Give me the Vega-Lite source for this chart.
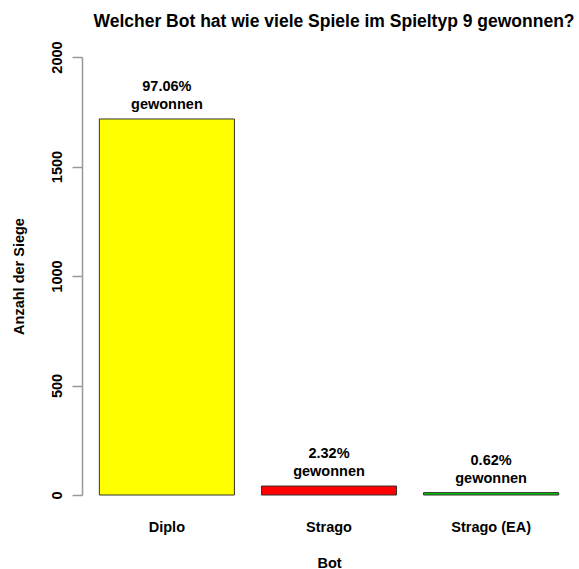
{
  "$schema": "https://vega.github.io/schema/vega-lite/v6.json",
  "width": 494,
  "height": 438,
  "autosize": {"type": "none"},
  "padding": {"left": 82, "top": 57, "right": 3, "bottom": 74},
  "background": "white",
  "config": {
    "view": {"stroke": null},
    "font": "Liberation Sans",
    "text": {"lineBreak": "\n"}
  },
  "title": {
    "text": "Welcher Bot hat wie viele Spiele im Spieltyp 9 gewonnen?",
    "anchor": "middle",
    "frame": "group",
    "font": "Liberation Sans",
    "fontSize": 17.5,
    "fontWeight": "bold",
    "color": "black",
    "baseline": "alphabetic",
    "offset": -4,
    "dx": 5
  },
  "data": {
    "values": [
      {"Bot": "Diplo", "Siege": 1717, "Label": "97.06%\ngewonnen"},
      {"Bot": "Strago", "Siege": 41, "Label": "2.32%\ngewonnen"},
      {"Bot": "Strago (EA)", "Siege": 11, "Label": "0.62%\ngewonnen"}
    ]
  },
  "encoding": {
    "x": {
      "field": "Bot",
      "type": "nominal",
      "sort": null,
      "scale": {"paddingInner": 0.1667, "paddingOuter": 0.107},
      "axis": {
        "title": "Bot",
        "labelAngle": 0,
        "domain": false,
        "ticks": false,
        "labelPadding": 25,
        "labelBaseline": "top",
        "labelFont": "Liberation Sans",
        "labelFontSize": 14.5,
        "labelFontWeight": "bold",
        "labelColor": "black",
        "titleFont": "Liberation Sans",
        "titleFontSize": 14.5,
        "titleFontWeight": "bold",
        "titleColor": "black",
        "titleBaseline": "alphabetic",
        "titleY": 72
      }
    },
    "y": {
      "field": "Siege",
      "type": "quantitative",
      "scale": {"domain": [0, 2000], "nice": false},
      "axis": {
        "title": "Anzahl der Siege",
        "values": [0, 500, 1000, 1500, 2000],
        "format": "d",
        "grid": false,
        "domainColor": "#999999",
        "domainWidth": 1.5,
        "tickColor": "#999999",
        "tickWidth": 1.5,
        "tickSize": 10,
        "labelAngle": 270,
        "labelAlign": "center",
        "labelBaseline": "alphabetic",
        "labelPadding": 11,
        "labelFont": "Liberation Sans",
        "labelFontSize": 14.5,
        "labelFontWeight": "bold",
        "labelColor": "black",
        "titleFont": "Liberation Sans",
        "titleFontSize": 14.5,
        "titleFontWeight": "bold",
        "titleColor": "black",
        "titleAngle": 270,
        "titleAlign": "center",
        "titleBaseline": "alphabetic",
        "titleX": -59,
        "titleY": 219
      }
    }
  },
  "layer": [
    {
      "mark": {"type": "bar", "stroke": "#333333", "strokeWidth": 1},
      "encoding": {
        "color": {
          "field": "Bot",
          "type": "nominal",
          "sort": null,
          "scale": {"domain": ["Diplo", "Strago", "Strago (EA)"], "range": ["#FFFF00", "#FF0000", "#00C800"]},
          "legend": null
        }
      }
    },
    {
      "mark": {
        "type": "text",
        "baseline": "bottom",
        "align": "center",
        "dy": -25,
        "lineHeight": 18,
        "font": "Liberation Sans",
        "fontSize": 14.5,
        "fontWeight": "bold",
        "color": "black"
      },
      "encoding": {"text": {"field": "Label"}}
    }
  ]
}
